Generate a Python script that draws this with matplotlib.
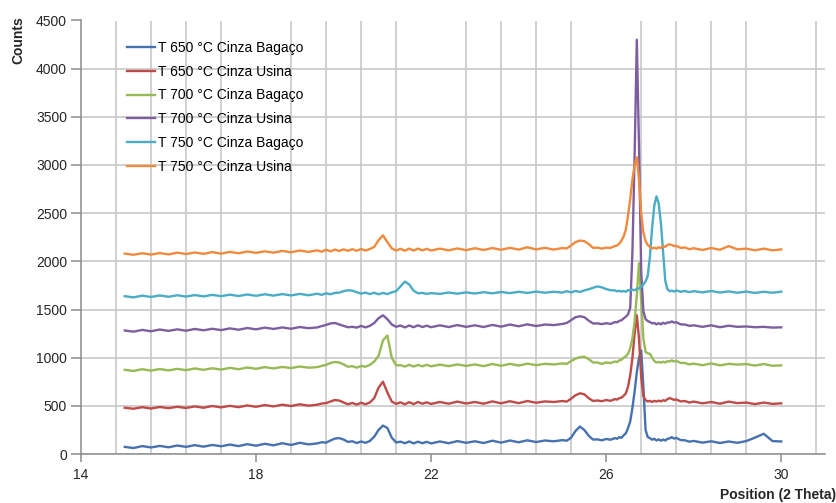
import numpy as np
import matplotlib
matplotlib.use("Agg")
import matplotlib.pyplot as plt
from matplotlib.ticker import MultipleLocator, FixedLocator

plt.rcParams['font.family'] = ['Liberation Sans', 'DejaVu Sans']

# Posições 2θ (varredura mais fina perto dos picos)
two_theta = [
    15.0, 15.2, 15.4, 15.6, 15.8, 16.0, 16.2, 16.4, 16.6, 16.8, 17.0,
    17.2, 17.4, 17.6, 17.8, 18.0, 18.2, 18.4, 18.6, 18.8, 19.0, 19.2,
    19.4, 19.5, 19.6, 19.7, 19.8, 19.9, 20.0, 20.1, 20.2, 20.3, 20.4, 20.5, 20.6,
    20.7, 20.8, 20.9, 21.0, 21.1, 21.2, 21.3, 21.4, 21.5, 21.6, 21.7, 21.8, 21.9,
    22.0, 22.2, 22.4, 22.6, 22.8, 23.0, 23.2, 23.4, 23.6, 23.8, 24.0, 24.2, 24.4, 24.6, 24.8,
    25.0, 25.1, 25.2, 25.3, 25.4, 25.5, 25.6, 25.7, 25.8, 25.9, 26.0, 26.1,
    26.2, 26.25, 26.3, 26.35, 26.4, 26.45, 26.5, 26.55, 26.6, 26.65, 26.7, 26.75, 26.8, 26.85,
    26.9, 26.95, 27.0, 27.05, 27.1, 27.15, 27.2, 27.25, 27.3, 27.35, 27.4, 27.45, 27.5, 27.55,
    27.6, 27.7, 27.8, 27.9,
    28.0, 28.2, 28.4, 28.6, 28.8, 29.0, 29.2, 29.4, 29.6, 29.8, 30.0,
]

t650_bagaco = [
    74, 62, 82, 68, 84, 70, 88, 74, 92, 76, 94,
    80, 98, 82, 102, 86, 106, 90, 112, 94, 116, 100,
    110, 122, 118, 140, 160, 165, 150, 126, 132, 114, 130, 116, 135,
    180, 250, 295, 270, 170, 120, 128, 112, 130, 110, 128, 112, 126,
    110, 130, 112, 134, 116, 132, 114, 138, 118, 140, 122, 142, 124, 140, 132,
    144, 138, 170, 240, 285, 250, 190, 150, 152, 142, 156, 148,
    165, 158, 175, 168, 195, 215, 270, 340, 480, 650, 850, 1000, 1075, 700,
    250, 175, 165, 148, 158, 140, 152, 138, 150, 140, 158, 162, 175, 160,
    168, 145, 142, 128,
    136, 118, 132, 114, 130, 116, 134, 170, 210, 134, 130,
]

t650_usina = [
    480, 470, 486, 472, 488, 476, 490, 478, 494, 480, 498,
    484, 500, 486, 504, 490, 508, 494, 512, 498, 516, 502,
    512, 524, 528, 545, 560, 555, 535, 516, 530, 512, 532, 516, 535,
    580, 690, 750, 640, 545, 520, 536, 516, 538, 518, 540, 522, 536,
    520, 540, 522, 544, 524, 540, 522, 546, 526, 548, 528, 550, 532, 546, 540,
    550, 544, 575, 610, 630, 620, 580, 550, 556, 548, 560, 552,
    570, 564, 580, 585, 605, 630, 700, 820, 1000, 1250, 1440, 1200, 800, 600,
    560, 545, 552, 540, 552, 544, 554, 546, 558, 552, 570, 580, 572, 562,
    566, 546, 550, 534,
    544, 526, 540, 522, 544, 528, 534, 518, 534, 520, 526,
]

t700_bagaco = [
    874, 862, 880, 866, 882, 868, 884, 870, 888, 874, 890,
    876, 894, 880, 898, 884, 902, 888, 904, 892, 908, 896,
    902, 915, 925, 945, 955, 950, 930, 906, 912, 896, 914, 906, 925,
    960, 1020, 1180, 1230, 1000, 920, 922, 908, 926, 908, 924, 910, 926,
    910, 928, 912, 930, 914, 930, 912, 934, 916, 936, 918, 938, 922, 936, 930,
    940, 936, 965, 990, 1005, 1010, 985, 950, 950, 935, 950, 944,
    960, 954, 972, 978, 1000, 1015, 1040, 1100, 1200, 1380, 1650, 1980, 1600, 1200,
    1060, 1045, 1040, 1000, 965, 950, 956, 948, 958, 950, 964, 960, 972, 960,
    966, 946, 944, 930,
    938, 922, 940, 920, 936, 928, 934, 918, 934, 916, 920,
]

t700_usina = [
    1282, 1270, 1288, 1274, 1292, 1278, 1294, 1280, 1298, 1284, 1300,
    1286, 1304, 1290, 1308, 1294, 1312, 1298, 1314, 1300, 1318, 1306,
    1314, 1328, 1340, 1355, 1360, 1345, 1330, 1316, 1320, 1312, 1330, 1314, 1330,
    1360, 1410, 1440, 1400, 1345, 1320, 1334, 1314, 1334, 1316, 1336, 1318, 1332,
    1316, 1336, 1318, 1338, 1320, 1336, 1318, 1340, 1322, 1344, 1326, 1346, 1328, 1344, 1338,
    1350, 1360, 1390, 1420, 1430, 1420, 1385, 1355, 1356, 1348, 1358, 1350,
    1370, 1366, 1382, 1388, 1408, 1425, 1450, 1520, 2100, 3100, 4300, 3200, 1900, 1480,
    1400, 1380, 1370, 1356, 1360, 1346, 1358, 1346, 1362, 1352, 1366, 1364, 1376, 1364,
    1368, 1346, 1344, 1330,
    1336, 1320, 1336, 1316, 1332, 1320, 1324, 1316, 1320, 1312, 1315,
]

t750_bagaco = [
    1638, 1626, 1644, 1630, 1646, 1632, 1648, 1634, 1650, 1636, 1652,
    1638, 1654, 1640, 1656, 1642, 1658, 1644, 1660, 1646, 1662, 1648,
    1664, 1652, 1668, 1658, 1672, 1675, 1690, 1700, 1695, 1680, 1664, 1676, 1660,
    1674, 1658, 1672, 1660, 1678, 1690, 1740, 1790, 1760, 1695, 1668, 1672, 1662,
    1670, 1662, 1676, 1664, 1678, 1666, 1680, 1668, 1682, 1670, 1684, 1672, 1686, 1674, 1684,
    1676, 1690, 1678, 1692, 1682, 1698, 1710, 1725, 1740, 1730, 1712, 1700,
    1698, 1688, 1694, 1686, 1692, 1684, 1702, 1696, 1706, 1700, 1715, 1718, 1735, 1760,
    1790, 1850, 2050, 2350, 2580, 2675, 2600, 2400, 2100, 1800, 1710, 1690, 1696, 1686,
    1698, 1684, 1692, 1680,
    1690, 1678, 1692, 1676, 1688, 1674, 1686, 1672, 1684, 1674, 1685,
]

t750_usina = [
    2080, 2068, 2084, 2070, 2086, 2072, 2090, 2076, 2092, 2078, 2096,
    2080, 2098, 2084, 2102, 2088, 2104, 2090, 2108, 2094, 2112, 2098,
    2114, 2100, 2120, 2104, 2122, 2108, 2124, 2110, 2126, 2110, 2128, 2112, 2128,
    2150, 2220, 2270, 2200, 2135, 2112, 2130, 2110, 2132, 2112, 2132, 2114, 2130,
    2112, 2132, 2114, 2134, 2116, 2136, 2118, 2138, 2120, 2140, 2122, 2146, 2124, 2140, 2122,
    2138, 2134, 2165, 2200, 2215, 2210, 2180, 2140, 2142, 2132, 2142, 2140,
    2158, 2165, 2185, 2215, 2260, 2330, 2480, 2650, 2850, 3000, 3080, 2850, 2500, 2300,
    2210, 2170, 2150, 2134, 2142, 2132, 2146, 2138, 2156, 2150, 2170, 2176, 2170, 2158,
    2160, 2140, 2144, 2126,
    2136, 2118, 2138, 2120, 2158, 2124, 2132, 2114, 2132, 2114, 2124,
]

series = [
    ("T 650 °C Cinza Bagaço", t650_bagaco, "#4672B0"),
    ("T 650 °C Cinza Usina", t650_usina, "#BE4B48"),
    ("T 700 °C Cinza Bagaço", t700_bagaco, "#98B954"),
    ("T 700 °C Cinza Usina", t700_usina, "#7D5FA0"),
    ("T 750 °C Cinza Bagaço", t750_bagaco, "#4AACC5"),
    ("T 750 °C Cinza Usina", t750_usina, "#F08A3C"),
]

fig = plt.figure(figsize=(8.37, 5.03), dpi=100)
ax = fig.add_axes([81 / 837, 1 - 454 / 503, (825 - 81) / 837, (454 - 20.5) / 503])

for label, y, color in series:
    ax.plot(two_theta, y, color=color, lw=1.7, label=label)

ax.set_xlim(14, 31)
ax.set_ylim(0, 4500)
ax.xaxis.set_major_locator(FixedLocator([14, 18, 22, 26, 30]))
ax.xaxis.set_minor_locator(FixedLocator([14 + 0.8 * k for k in range(22)]))
ax.yaxis.set_major_locator(MultipleLocator(500))

ax.grid(True, which='minor', axis='x', color='#c4c4c4', lw=1.1)
ax.grid(True, which='major', axis='y', color='#c4c4c4', lw=1.1)
ax.set_axisbelow(True)

for side in ('top', 'right'):
    ax.spines[side].set_visible(False)
for side in ('left', 'bottom'):
    ax.spines[side].set_color('#8c8c8c')
    ax.spines[side].set_linewidth(1.1)

ax.tick_params(axis='both', which='major', labelsize=10, colors='#8c8c8c',
               labelcolor='#262626', width=1.1)
ax.tick_params(axis='y', length=7, pad=3)
ax.tick_params(axis='x', length=6, pad=4)
ax.tick_params(axis='x', which='minor', length=0)

fig.text(18 / 837, 1 - 40 / 503, "Counts", rotation=90, ha='center', va='center',
         fontsize=10, fontweight='bold', color='#262626')
fig.text(836 / 837, 1 - 495 / 503, "Position (2 Theta)", ha='right', va='center',
         fontsize=10, fontweight='bold', color='#262626')

ax.legend(loc='upper left', bbox_to_anchor=(127 / 837, 1 - 41 / 503),
          bbox_transform=fig.transFigure, frameon=False, fontsize=10,
          handlelength=2.0, handletextpad=0.2, labelspacing=0.7,
          borderpad=0, borderaxespad=0)

fig.savefig("out.png", dpi=100)
